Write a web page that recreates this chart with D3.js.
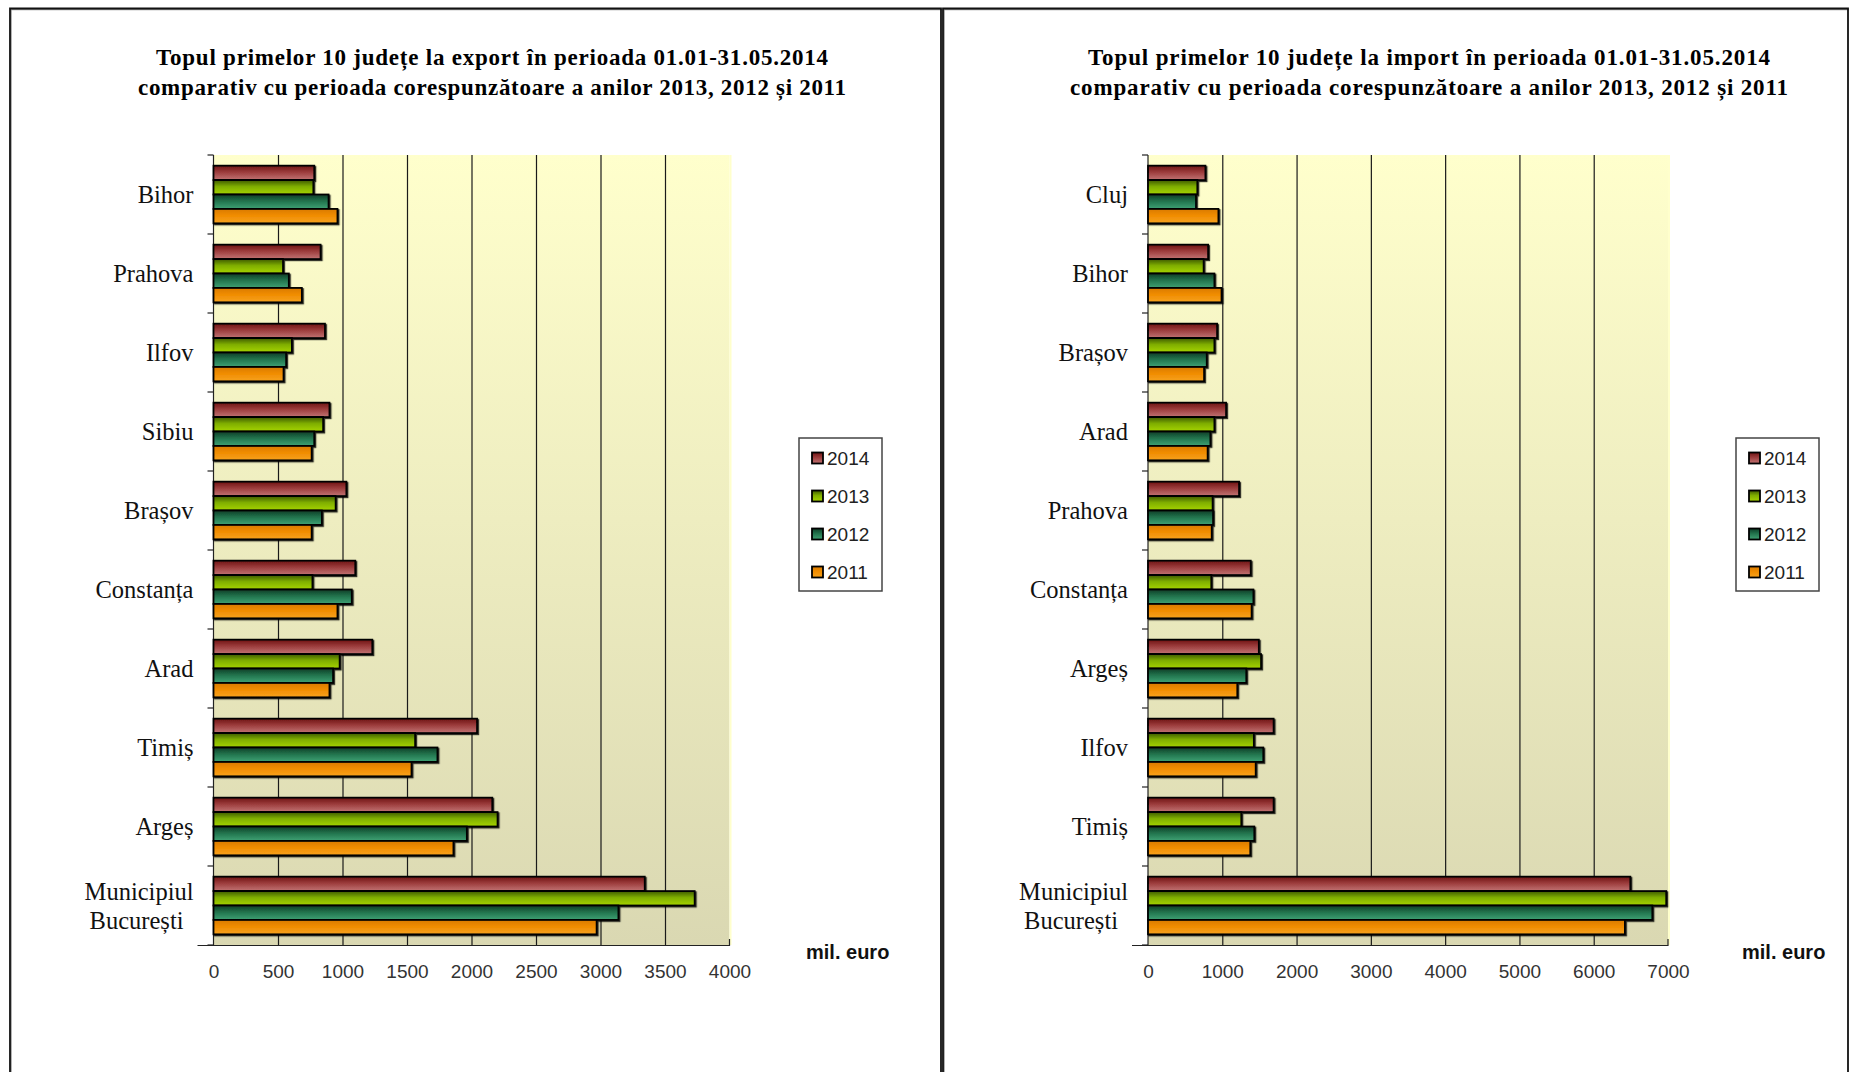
<!DOCTYPE html>
<html>
<head>
<meta charset="utf-8">
<script src="https://cdn.jsdelivr.net/npm/d3@7"></script>
<style>
  body { margin: 0; background: #fff; }
  svg { display: block; }
</style>
</head>
<body>
<svg id="chart" width="1858" height="1072"></svg>
<script>
var years = ["2014", "2013", "2012", "2011"];

var exportCounties = ["Bihor", "Prahova", "Ilfov", "Sibiu", "Brașov", "Constanța", "Arad", "Timiș", "Argeș", "Municipiul București"];
var export2014 = [781, 830, 864, 899, 1030, 1099, 1231, 2043, 2161, 3343];
var export2013 = [774, 539, 608, 850, 947, 767, 978, 1563, 2202, 3730];
var export2012 = [892, 584, 563, 781, 840, 1072, 927, 1736, 1964, 3139];
var export2011 = [961, 685, 543, 761, 761, 961, 899, 1535, 1860, 2970];
var exportTicks = [0, 500, 1000, 1500, 2000, 2500, 3000, 3500, 4000];

var importCounties = ["Cluj", "Bihor", "Brașov", "Arad", "Prahova", "Constanța", "Argeș", "Ilfov", "Timiș", "Municipiul București"];
var import2014 = [773, 809, 930, 1051, 1226, 1383, 1492, 1691, 1691, 6493];
var import2013 = [664, 749, 894, 894, 870, 852, 1522, 1425, 1256, 6976];
var import2012 = [646, 894, 791, 840, 876, 1419, 1323, 1552, 1431, 6789];
var import2011 = [948, 990, 755, 803, 858, 1395, 1202, 1450, 1377, 6420];
var importTicks = [0, 1000, 2000, 3000, 4000, 5000, 6000, 7000];

// gradient stops per year: top, middle, bottom
var shades = {
  "2014": ["#6e1414", "#9c3c3c", "#c27474"],
  "2013": ["#3f5a00", "#7fae00", "#a6d400"],
  "2012": ["#0c3d27", "#22724c", "#3fa274"],
  "2011": ["#d97a00", "#f08c00", "#f7a21c"]
};

var svg = d3.select("#chart");
var defs = svg.append("defs");

years.forEach(function(yr) {
  var g = defs.append("linearGradient")
    .attr("id", "g" + yr)
    .attr("x1", 0).attr("y1", 0).attr("x2", 0).attr("y2", 1);
  g.append("stop").attr("offset", "0%").attr("stop-color", shades[yr][0]);
  g.append("stop").attr("offset", "45%").attr("stop-color", shades[yr][1]);
  g.append("stop").attr("offset", "100%").attr("stop-color", shades[yr][2]);
});

var bg = defs.append("linearGradient")
  .attr("id", "plotBg")
  .attr("x1", 0).attr("y1", 0).attr("x2", 0).attr("y2", 1);
bg.append("stop").attr("offset", "0%").attr("stop-color", "#ffffcc");
bg.append("stop").attr("offset", "100%").attr("stop-color", "#dad8b2");

defs.append("filter").attr("id", "shadow")
  .append("feDropShadow")
  .attr("dx", 1.2).attr("dy", 1.2).attr("stdDeviation", 0.4)
  .attr("flood-color", "#000").attr("flood-opacity", 0.8);

// panel frames
function frame(x0, x1) {
  svg.append("path")
    .attr("d", "M" + (x0 + 1) + ",1072V9.5H" + (x1 + 1))
    .attr("fill", "none").attr("stroke", "#999").attr("stroke-width", 1.5);
  svg.append("path")
    .attr("d", "M" + x0 + ",1072V8.5H" + x1 + "V1072")
    .attr("fill", "none").attr("stroke", "#111").attr("stroke-width", 1.8);
}
frame(10, 941);
frame(943, 1848);

function drawChart(cfg) {
  var top = 155, bottom = 945;
  var g = svg.append("g");

  var x = d3.scaleLinear()
    .domain([0, cfg.ticks[cfg.ticks.length - 1]])
    .range([cfg.left, cfg.right]);

  var y = d3.scaleBand()
    .domain(cfg.counties)
    .range([top, bottom])
    .paddingInner(0.27)
    .paddingOuter(0.135);

  var yInner = d3.scaleBand()
    .domain(years)
    .range([0, y.bandwidth()]);

  // title
  [cfg.title1, cfg.title2].forEach(function(t, i) {
    g.append("text")
      .attr("x", cfg.titleX).attr("y", 65 + i * 30)
      .attr("text-anchor", "middle")
      .attr("textLength", cfg.titleW[i])
      .attr("lengthAdjust", "spacing")
      .style("font", "bold 23px 'Liberation Serif', serif")
      .text(t);
  });

  // plot area
  g.append("rect")
    .attr("x", cfg.left).attr("y", top)
    .attr("width", cfg.right - cfg.left).attr("height", bottom - top)
    .attr("fill", "url(#plotBg)");
  g.append("line")
    .attr("x1", cfg.right + 1).attr("x2", cfg.right + 1)
    .attr("y1", top).attr("y2", bottom)
    .attr("stroke", "#ffffcc").attr("stroke-width", 2);

  // vertical grid lines
  g.append("g")
    .attr("transform", "translate(0," + bottom + ")")
    .call(d3.axisBottom(x)
      .tickValues(cfg.ticks.slice(1, -1))
      .tickSize(-(bottom - top))
      .tickFormat(""))
    .call(function(s) {
      s.select(".domain").remove();
      s.selectAll("line").attr("stroke", "#1a1a1a").attr("stroke-width", 1.2);
    });

  // x axis
  g.append("g")
    .attr("transform", "translate(0," + bottom + ")")
    .call(d3.axisBottom(x)
      .tickValues(cfg.ticks)
      .tickSize(0)
      .tickPadding(20)
      .tickFormat(d3.format("d")))
    .call(function(s) {
      s.select(".domain").attr("stroke", "#222").attr("stroke-width", 1.2)
        .attr("d", "M" + (cfg.left - 16) + ",0.5H" + cfg.right + "V-6");
      s.selectAll("text")
        .style("font", "19px 'Liberation Sans', Arial, sans-serif")
        .attr("fill", "#333");
    });

  // y axis line and boundary ticks
  var bounds = cfg.counties.map(function(c) {
    return y(c) - y.step() * y.paddingInner() / 2;
  });
  bounds.push(bottom);
  g.append("line")
    .attr("x1", cfg.left).attr("x2", cfg.left)
    .attr("y1", top).attr("y2", bottom)
    .attr("stroke", "#222").attr("stroke-width", 1.2);
  g.selectAll(".ytick").data(bounds).enter().append("line")
    .attr("x1", cfg.left - 6).attr("x2", cfg.left)
    .attr("y1", function(d) { return d; })
    .attr("y2", function(d) { return d; })
    .attr("stroke", "#222").attr("stroke-width", 1.2);

  // category labels
  g.selectAll(".cat").data(cfg.counties).enter().append("text")
    .attr("x", cfg.left - 20)
    .attr("text-anchor", "end")
    .style("font", "24.5px 'Liberation Serif', serif")
    .attr("fill", "#111")
    .each(function(d) {
      var parts = d.split(" ");
      var cy = y(d) + y.bandwidth() / 2;
      var t = d3.select(this);
      parts.forEach(function(p, i) {
        t.append("tspan")
          .attr("x", cfg.left - 20 - (i > 0 ? 10 : 0))
          .attr("y", cy + (i - (parts.length - 1) / 2) * 29)
          .attr("dy", "0.35em")
          .text(p);
      });
    });

  // bars
  var rows = [];
  cfg.counties.forEach(function(c, i) {
    years.forEach(function(yr) {
      rows.push({ county: c, year: yr, value: cfg.series[yr][i] });
    });
  });
  g.append("g").attr("filter", "url(#shadow)")
    .selectAll("rect").data(rows).enter().append("rect")
    .attr("x", cfg.left)
    .attr("y", function(d) { return y(d.county) + yInner(d.year); })
    .attr("width", function(d) { return x(d.value) - cfg.left; })
    .attr("height", yInner.bandwidth())
    .attr("fill", function(d) { return "url(#g" + d.year + ")"; })
    .attr("stroke", "#000")
    .attr("stroke-width", 1.8);

  // unit label
  g.append("text")
    .attr("x", cfg.unitX).attr("y", 959)
    .style("font", "bold 20px 'Liberation Sans', Arial, sans-serif")
    .attr("fill", "#111")
    .text("mil. euro");

  // legend
  var lg = g.append("g");
  lg.append("rect")
    .attr("x", cfg.legendX).attr("y", 438)
    .attr("width", 83).attr("height", 153)
    .attr("fill", "#fff").attr("stroke", "#444").attr("stroke-width", 1.5);
  var item = lg.selectAll(".item").data(years).enter().append("g")
    .attr("transform", function(d, i) {
      return "translate(" + (cfg.legendX + 13) + "," + (458 + i * 38) + ")";
    });
  item.append("rect")
    .attr("x", 0).attr("y", -5.5)
    .attr("width", 11).attr("height", 11)
    .attr("fill", function(d) { return "url(#g" + d + ")"; })
    .attr("stroke", "#000").attr("stroke-width", 1.8);
  item.append("text")
    .attr("x", 15).attr("dy", "0.36em")
    .style("font", "19px 'Liberation Sans', Arial, sans-serif")
    .attr("fill", "#222")
    .text(function(d) { return d; });
}

drawChart({
  left: 213.5, right: 729.5, titleX: 492, titleW: [672, 708],
  title1: "Topul primelor  10 județe la export în perioada 01.01-31.05.2014",
  title2: "comparativ cu perioada corespunzătoare a anilor 2013, 2012 și 2011",
  counties: exportCounties,
  series: { "2014": export2014, "2013": export2013, "2012": export2012, "2011": export2011 },
  ticks: exportTicks,
  legendX: 799, unitX: 806
});

drawChart({
  left: 1148, right: 1668, titleX: 1429, titleW: [682, 718],
  title1: "Topul primelor  10 județe la import în perioada 01.01-31.05.2014",
  title2: "comparativ cu perioada corespunzătoare a anilor 2013, 2012 și 2011",
  counties: importCounties,
  series: { "2014": import2014, "2013": import2013, "2012": import2012, "2011": import2011 },
  ticks: importTicks,
  legendX: 1736, unitX: 1742
});
</script>
</body>
</html>
